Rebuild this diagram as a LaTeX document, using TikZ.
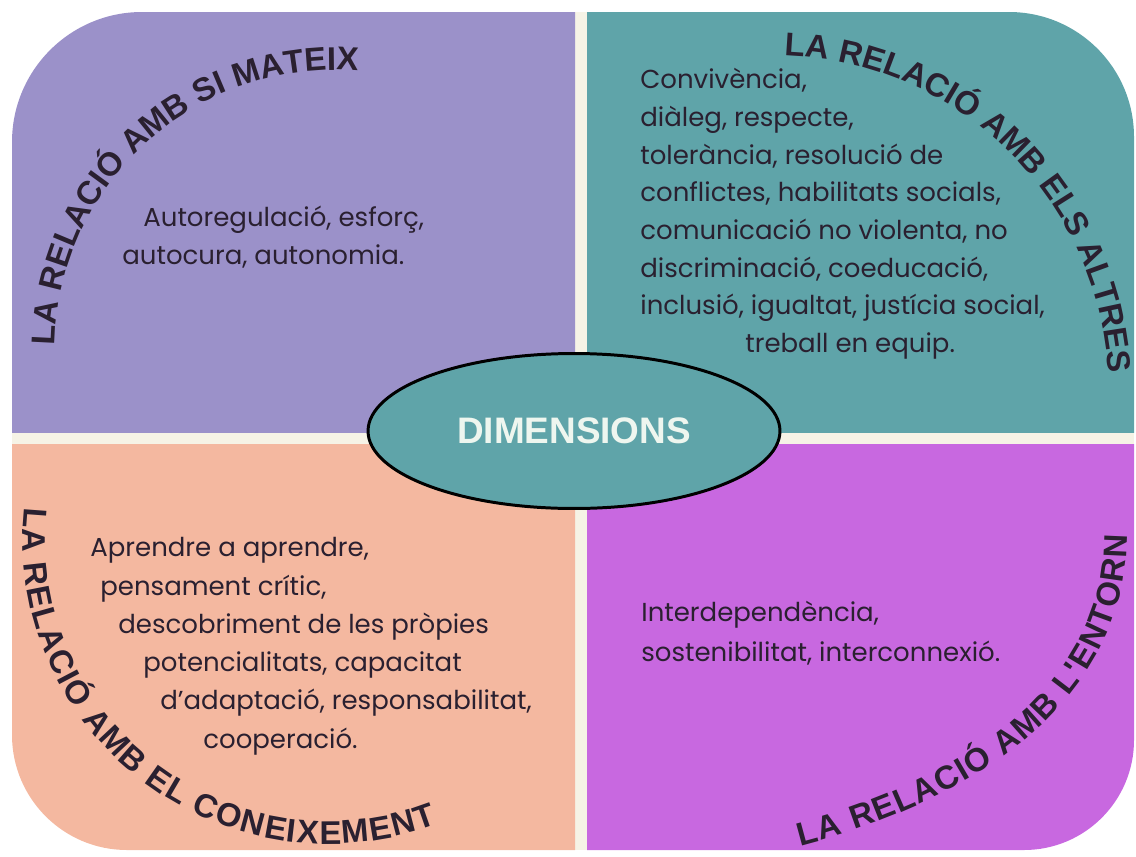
\documentclass[tikz,border=0pt]{standalone}
\usepackage{fontspec}
\usetikzlibrary{decorations.text,shapes.geometric}
\newfontfamily\headfont{Liberation Sans}
\newfontfamily\bodyfont{Poppins}
\definecolor{lav}{HTML}{9B91C9}
\definecolor{teal}{HTML}{5FA4A9}
\definecolor{peach}{HTML}{F4B8A0}
\definecolor{magen}{HTML}{C868E0}
\definecolor{cream}{HTML}{F6F3E6}
\definecolor{ink}{HTML}{2A2030}
\definecolor{dimtxt}{HTML}{EEF6EF}
\tikzset{
  body/.style={font=\bodyfont\fontsize{14.8pt}{16pt}\selectfont, text=ink, inner sep=0pt, anchor=base west},
  dimnode/.style={ellipse, draw=black, line width=1.7pt, fill=teal, minimum width=8.24cm, minimum height=3.1cm, inner sep=0pt,
     font=\headfont\bfseries\fontsize{21pt}{23pt}\selectfont, text=dimtxt},
  arctext/.style={decorate, decoration={text along path, text align=left,
     text={|\headfont\bfseries\fontsize{18.7pt}{20pt}\selectfont\color{ink}|#1}}},
  fittext/.style={decorate, decoration={text along path, text align=fit to path,
     text={|\headfont\bfseries\fontsize{18.7pt}{20pt}\selectfont\color{ink}|#1}}}
}
\begin{document}
\begin{tikzpicture}[x=0.02cm, y=-0.02cm]
\useasboundingbox (0,0) rectangle (1136,856);
% cream dividers
\fill[cream] (575,12) rectangle (587,850);
\fill[cream] (12,432) rectangle (1134,444);
% quadrants
\begin{scope}
  \clip (12,12) rectangle (575,432);
  \fill[lav, rounded corners=2.6cm] (12,12) rectangle (900,800);
\end{scope}
\begin{scope}
  \clip (587,12) rectangle (1134,432);
  \fill[teal, rounded corners=2.5cm] (200,12) rectangle (1134,800);
\end{scope}
\begin{scope}
  \clip (12,444) rectangle (575,850);
  \fill[peach, rounded corners=2.3cm] (12,0) rectangle (900,850);
\end{scope}
\begin{scope}
  \clip (587,444) rectangle (1134,850);
  \fill[magen, rounded corners=2.2cm] (200,0) rectangle (1134,850);
\end{scope}
% body texts
\node[body] (tla) at (143,226) {Autoregulació, esforç,};
\node[body] (tlb) at (122,264) {autocura, autonomia.};
\node[body] (tra) at (640,88) {Convivència,};
\node[body] (trb) at (640,126) {diàleg, respecte,};
\node[body] (trc) at (640,164) {tolerància, resolució de};
\node[body] (trd) at (640,201) {conflictes, habilitats socials,};
\node[body] (tre) at (640,239) {comunicació no violenta, no};
\node[body] (trf) at (640,277) {discriminació, coeducació,};
\node[body] (trg) at (640,314) {inclusió, igualtat, justícia social,};
\node[body] (trh) at (745,352) {treball en equip.};
\node[body] (bla) at (90,556) {Aprendre a aprendre,};
\node[body] (blb) at (100,595) {pensament crític,};
\node[body] (blc) at (118,633) {descobriment de les pròpies};
\node[body] (bld) at (143,671) {potencialitats, capacitat};
\node[body] (ble) at (160,709) {d’adaptació, responsabilitat,};
\node[body] (blf) at (203,748) {cooperació.};
\node[body] (bra) at (641,621) {Interdependència,};
\node[body] (brb) at (641,661) {sostenibilitat, interconnexió.};
% centre
\node[dimnode] (dim) at (574,431) {DIMENSIONS};
% curved headings
\path[arctext={LA RELACIÓ AMB SI MATEIX}]
  plot[domain=0:110, samples=90] ({335+280*cos(181+\x)}, {350+280*sin(181+\x)});
\path[arctext={LA RELACIÓ AMB ELS ALTRES}]
  plot[domain=0:100, samples=90] ({773+336*cos(272+\x)}, {391+336*sin(272+\x)});
\path[fittext={LA RELACIÓ AMB EL CONEIXEMENT}]
  plot[domain=0:117, samples=100] ({328+305*cos(186-\x)}, {539+305*sin(186-\x)});
\path[fittext={LA RELACIÓ AMB L'ENTORN}]
  (800,846) .. controls (1000,794) and (1127,685) .. (1127,535);
\end{tikzpicture}
\end{document}
